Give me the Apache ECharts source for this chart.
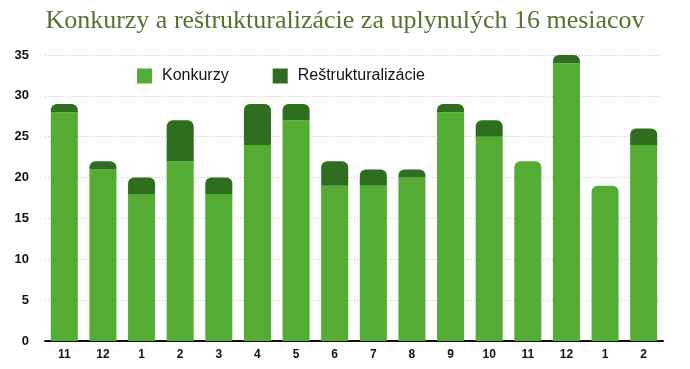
<!DOCTYPE html>
<html>
<head>
<meta charset="utf-8">
<script src="https://cdn.jsdelivr.net/npm/echarts@6/dist/echarts.min.js"></script>
<style>html,body{margin:0;padding:0;background:#fff;}#c{width:690px;height:369px;}</style>
</head>
<body>
<div id="c"></div>
<script>
var categories = ['11','12','1','2','3','4','5','6','7','8','9','10','11','12','1','2'];
var konkurzy = [28,21,18,22,18,24,27,19,19,20,28,25,22,34,19,24];
var restrukturalizacie = [1,1,2,5,2,5,2,3,2,1,1,2,0,1,0,2];
var yTicks = [0,5,10,15,20,25,30,35];

var chart = echarts.init(document.getElementById('c'));
var r = 6;
var kData = konkurzy.map(function(v,i){
  return {value:v, itemStyle:{borderRadius: restrukturalizacie[i] === 0 ? [r,r,0,0] : 0}};
});
chart.setOption({
  animation:false,
  title:{
    text:'Konkurzy a reštrukturalizácie za uplynulých 16 mesiacov',
    left:'center', top:3,
    textStyle:{fontFamily:'Liberation Serif', fontWeight:'normal', fontSize:26, color:'#58702f'}
  },
  legend:{
    left:137, top:68, padding:0, itemWidth:15, itemHeight:15, itemGap:44,
    icon:'rect',
    textStyle:{fontFamily:'Liberation Sans', fontSize:16, color:'#111', padding:[0,0,0,5]},
    data:['Konkurzy','Reštrukturalizácie']
  },
  grid:{left:45, right:27, top:55, bottom:28},
  xAxis:{
    type:'category', data:categories,
    axisLine:{lineStyle:{color:'#111', width:2}},
    axisTick:{show:false},
    axisLabel:{fontFamily:'Liberation Sans', fontWeight:'bold', fontSize:12, color:'#111', margin:8}
  },
  yAxis:{
    type:'value', min:yTicks[0], max:yTicks[yTicks.length-1], interval:5,
    axisLine:{show:false}, axisTick:{show:false},
    axisLabel:{fontFamily:'Liberation Sans', fontWeight:'bold', fontSize:13, color:'#111', margin:16},
    splitLine:{lineStyle:{type:[1,2], color:'#c4c4c4', width:1}}
  },
  series:[
    {name:'Konkurzy', type:'bar', stack:'a', data:kData, barCategoryGap:'30%',
     itemStyle:{color:'#55ac34'}},
    {name:'Reštrukturalizácie', type:'bar', stack:'a', data:restrukturalizacie,
     itemStyle:{color:'#2f6e1f', borderRadius:[r,r,0,0]}}
  ]
});
</script>
</body>
</html>
